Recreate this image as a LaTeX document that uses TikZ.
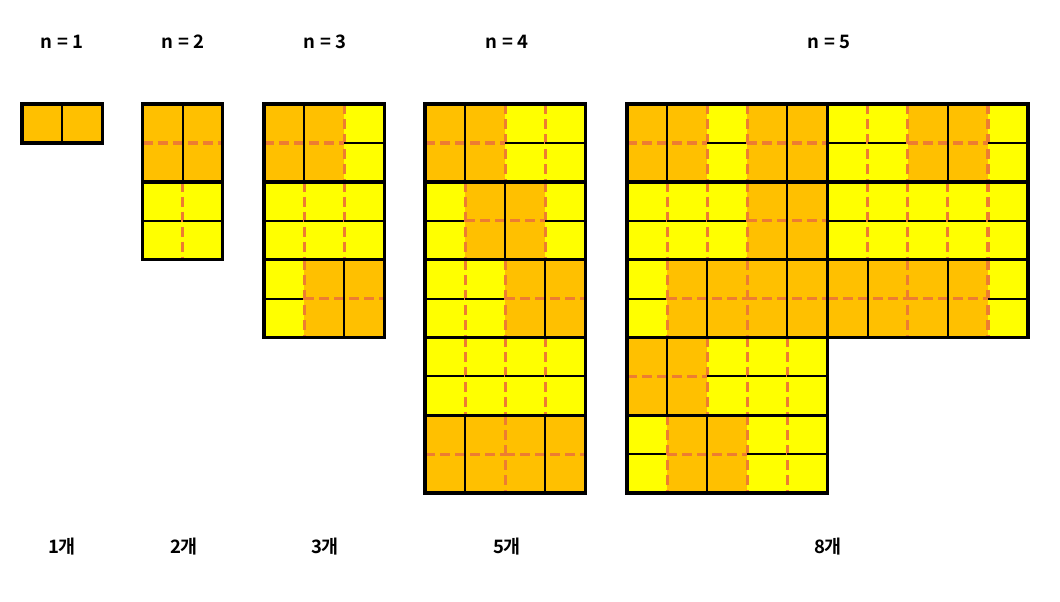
\documentclass[tikz,border=0pt]{standalone}
\usepackage{fontspec}
\setmainfont{Noto Sans CJK KR}[BoldFont={Noto Sans CJK KR Bold}]
\definecolor{org}{HTML}{FFC000}
\definecolor{yel}{HTML}{FFFF00}
\definecolor{dsh}{HTML}{ED7D31}
\tikzset{
  thinline/.style={black,line width=2pt},
  dashline/.style={dsh,line width=3.2pt,dash pattern=on 10pt off 5pt},
  border/.style={black,line width=3.4pt},
  lbl/.style={font=\bfseries\fontsize{18.5}{20}\selectfont,inner sep=0pt}
}
\newcommand\tilerow[2]{%
  \xdef\curcol{0}%
  \foreach \t in {#2}{%
    \if d\t
      \fill[org] (\curcol,#1) rectangle ++(2,2);
      \pgfmathtruncatemacro\nc{\curcol+2}%
    \else
      \fill[yel] (\curcol,#1) rectangle ++(1,2);
      \pgfmathtruncatemacro\nc{\curcol+1}%
    \fi
    \xdef\curcol{\nc}%
  }%
  \xdef\curcol{0}%
  \foreach \t in {#2}{%
    \ifnum\curcol>0 \draw[dashline] (\curcol,#1) -- ++(0,2);\fi
    \if d\t
      \draw[dashline] (\curcol,#1+1) -- ++(2,0);
      \draw[thinline] (\curcol+1,#1) -- ++(0,2);
      \pgfmathtruncatemacro\nc{\curcol+2}%
    \else
      \draw[thinline] (\curcol,#1+1) -- ++(1,0);
      \pgfmathtruncatemacro\nc{\curcol+1}%
    \fi
    \xdef\curcol{\nc}%
  }%
  \draw[border] (0,#1) rectangle (\curcol,#1+2);
}
\begin{document}
\begin{tikzpicture}[x=40.1pt,y=-38.9pt]
\useasboundingbox (0pt,0pt) rectangle (1060pt,-602pt);
% titles
\node[lbl] (t1) at (62pt,-42pt) {n = 1};
\node[lbl] (t2) at (183pt,-42pt) {n = 2};
\node[lbl] (t3) at (325pt,-42pt) {n = 3};
\node[lbl] (t4) at (507pt,-42pt) {n = 4};
\node[lbl] (t5) at (829pt,-42pt) {n = 5};
% counts
\node[lbl] (c1) at (62pt,-547pt) {1개};
\node[lbl] (c2) at (184pt,-547pt) {2개};
\node[lbl] (c3) at (325pt,-547pt) {3개};
\node[lbl] (c4) at (507pt,-547pt) {5개};
\node[lbl] (c5) at (828pt,-547pt) {8개};
% n = 1
\begin{scope}[shift={(22pt,-104pt)}]
  \fill[org] (0,0) rectangle (2,1);
  \draw[thinline] (1,0) -- (1,1);
  \draw[border] (0,0) rectangle (2,1);
\end{scope}
% n = 2
\begin{scope}[shift={(142.5pt,-104pt)}]
  \tilerow{0}{d}
  \tilerow{2}{s,s}
\end{scope}
% n = 3
\begin{scope}[shift={(264pt,-104pt)}]
  \tilerow{0}{d,s}
  \tilerow{2}{s,s,s}
  \tilerow{4}{s,d}
\end{scope}
% n = 4
\begin{scope}[shift={(425pt,-104pt)}]
  \tilerow{0}{d,s,s}
  \tilerow{2}{s,d,s}
  \tilerow{4}{s,s,d}
  \tilerow{6}{s,s,s,s}
  \tilerow{8}{d,d}
\end{scope}
% n = 5
\begin{scope}[shift={(627pt,-104pt)}]
  \tilerow{0}{d,s,d}
  \tilerow{2}{s,s,s,d}
  \tilerow{4}{s,d,d}
  \tilerow{6}{d,s,s,s}
  \tilerow{8}{s,d,s,s}
  \begin{scope}[shift={(5,0)}]
    \tilerow{0}{s,s,d,s}
    \tilerow{2}{s,s,s,s,s}
    \tilerow{4}{d,d,s}
  \end{scope}
\end{scope}
\end{tikzpicture}
\end{document}
